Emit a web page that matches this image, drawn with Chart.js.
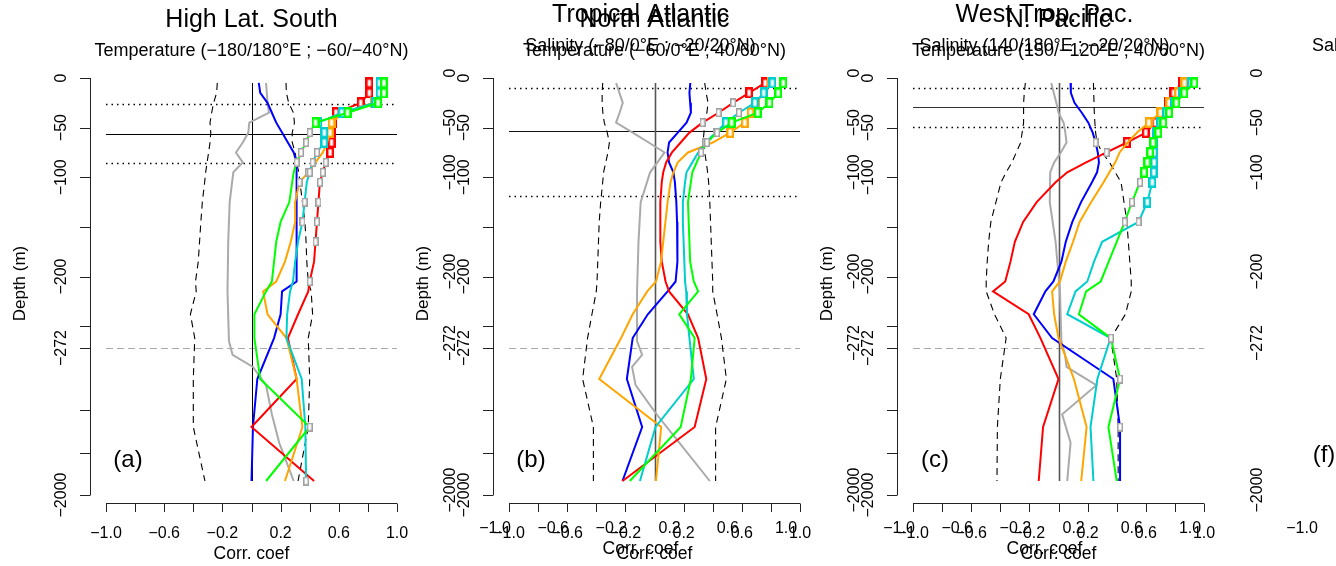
<!DOCTYPE html>
<html>
<head>
<meta charset="utf-8">
<script src="https://cdn.jsdelivr.net/npm/chart.js@4.4.0/dist/chart.umd.min.js"></script>
<style>
html, body { margin:0; padding:0; background:#fff; overflow:hidden; width:1336px; height:566px; }
.pnl { position:absolute; top:0; width:420px; height:566px; }
</style>
</head>
<body>
<div class="pnl" style="left:0px"><canvas id="pa" width="420" height="566"></canvas></div>
<div class="pnl" style="left:403px"><canvas id="pb" width="420" height="566"></canvas></div>
<div class="pnl" style="left:807px"><canvas id="pc" width="420" height="566"></canvas></div>
<div class="pnl" style="left:1210px"><canvas id="pf" width="420" height="566"></canvas></div>
<script>
// depth levels (m) of the profiles
var depthLevels = [5,15,25,35,45,55,65,75,85,95,105,125,145,165,185,205,215,238,262,400,700,1500];
var grayLevels  = [5,25,35,45,55,65,75,85,95,125,165,215,265,300,350,420,550,880,1500];

// the depth axis is stretched above 272 m and squeezed below
var depthKnots = [0,272,400,500,700,1000,1500,2000];
var axisKnots  = [0,270,301,332,349,375,403,417];

var depthTicks = [0,50,100,150,200,250,272,500,1000,2000];
var depthTickLabels = ['0','\u221250','\u2212100','','\u2212200','','\u2212272','','','\u22122000'];
var corrTicks = [-1,-0.8,-0.6,-0.4,-0.2,0,0.2,0.4,0.6,0.8,1];
var corrTickLabels = ['\u22121.0','','\u22120.6','','\u22120.2','','0.2','','0.6','','1.0'];

// (a) High Lat. South
var a_red    = [0.81,0.81,0.75,0.58,0.56,0.55,0.55,0.54,0.51,0.49,0.47,0.46,0.45,0.44,0.43,0.40,0.39,0.32,0.25,0.31,0.00,0.43];
var a_orange = [0.88,0.88,0.84,0.63,0.55,0.54,0.52,0.49,0.44,0.39,0.33,0.30,0.30,0.27,0.23,0.17,0.08,0.11,0.24,0.31,0.35,0.23];
var a_cyan   = [0.88,0.88,0.85,0.62,0.46,0.50,0.50,0.45,0.42,0.40,0.38,0.365,0.35,0.32,0.30,0.285,0.265,0.245,0.24,0.345,0.37,0.375];
var a_green  = [0.91,0.91,0.87,0.66,0.44,0.40,0.375,0.34,0.31,0.29,0.28,0.26,0.20,0.17,0.155,0.14,0.10,0.02,0.02,0.06,0.40,0.10];
var a_blue   = [0.05,0.06,0.11,0.14,0.17,0.21,0.25,0.29,0.31,0.31,0.31,0.31,0.31,0.31,0.31,0.31,0.21,0.20,0.155,0.04,0.01,0.0];
var a_gray   = [0.10,0.11,0.12,-0.015,-0.022,-0.06,-0.107,-0.06,-0.125,-0.15,-0.16,-0.165,-0.155,-0.13,0.01,0.10,0.14,0.19,0.29];
var a_lo     = [-0.235,-0.24,-0.26,-0.274,-0.285,-0.28,-0.285,-0.295,-0.305,-0.315,-0.322,-0.338,-0.348,-0.357,-0.366,-0.385,-0.38,-0.42,-0.39,-0.40,-0.40,-0.32];
var a_hi     = [0.237,0.24,0.255,0.288,0.295,0.28,0.28,0.30,0.31,0.325,0.333,0.35,0.367,0.375,0.38,0.39,0.41,0.42,0.39,0.40,0.39,0.32];
// 2 = significant (coloured square), 1 = weaker (grey square)
var a_red_sig    = [2,2,2,2,2,2,2,2,1,1,1,1,1,1,0,1,0,0,0,0,0,0];
var a_orange_sig = [2,2,2,2,2,2,0,0,0,1,1,0,0,0,0,0,0,0,0,0,0,0];
var a_cyan_sig   = [2,2,2,2,2,2,2,1,1,1,0,1,1,0,0,0,0,0,0,0,0,1];
var a_green_sig  = [2,2,2,2,2,1,1,1,1,0,0,0,0,0,0,0,0,0,0,0,1,0];

// (b) North Atlantic
var b_red    = [0.76,0.65,0.54,0.44,0.33,0.24,0.18,0.12,0.08,0.06,0.05,0.04,0.04,0.04,0.05,0.076,0.10,0.23,0.30,0.356,0.276,-0.22];
var b_orange = [0.80,0.75,0.70,0.66,0.62,0.52,0.40,0.23,0.16,0.13,0.11,0.09,0.075,0.06,0.045,0.01,-0.05,-0.15,-0.23,-0.38,0.046,0.01];
var b_cyan   = [0.81,0.75,0.69,0.58,0.49,0.42,0.35,0.30,0.26,0.22,0.21,0.195,0.195,0.20,0.205,0.21,0.218,0.223,0.24,0.27,0.007,-0.10];
var b_green  = [0.885,0.85,0.79,0.71,0.53,0.43,0.36,0.32,0.29,0.26,0.25,0.23,0.235,0.24,0.245,0.27,0.30,0.17,0.276,0.25,0.18,-0.17];
var b_blue   = [0.246,0.24,0.245,0.25,0.22,0.16,0.10,0.09,0.10,0.13,0.14,0.15,0.155,0.16,0.155,0.145,0.09,-0.046,-0.15,-0.19,-0.085,-0.22];
var b_gray   = [-0.264,-0.218,-0.24,-0.264,-0.15,-0.04,0.069,0.02,-0.03,-0.095,-0.11,-0.12,-0.12,-0.085,-0.154,-0.13,0.014,0.17,0.38];
var b_lo     = [-0.356,-0.36,-0.36,-0.355,-0.345,-0.325,-0.31,-0.32,-0.335,-0.35,-0.356,-0.37,-0.38,-0.385,-0.39,-0.395,-0.40,-0.43,-0.46,-0.494,-0.42,-0.42];
var b_hi     = [0.345,0.355,0.368,0.36,0.345,0.34,0.333,0.345,0.356,0.365,0.372,0.38,0.385,0.39,0.395,0.40,0.40,0.43,0.46,0.494,0.42,0.42];
var b_red_sig    = [2,2,1,1,1,0,0,0,0,0,0,0,0,0,0,0,0,0,0,0,0,0];
var b_orange_sig = [2,2,2,2,2,2,0,0,0,0,0,0,0,0,0,0,0,0,0,0,0,0];
var b_cyan_sig   = [2,2,2,1,2,1,1,0,0,0,0,0,0,0,0,0,0,0,0,0,0,0];
var b_green_sig  = [2,2,2,2,2,1,1,1,0,0,0,0,0,0,0,0,0,0,0,0,0,0];

// (c) N. Pacific
var c_red    = [0.85,0.79,0.75,0.71,0.665,0.60,0.47,0.33,0.19,0.06,-0.02,-0.15,-0.243,-0.30,-0.33,-0.366,-0.45,-0.205,-0.124,0.0,-0.106,-0.136];
var c_orange = [0.865,0.82,0.76,0.70,0.62,0.54,0.475,0.42,0.39,0.35,0.31,0.225,0.145,0.10,0.05,0.01,-0.044,-0.03,0.0,0.106,0.193,0.156];
var c_cyan   = [0.91,0.85,0.795,0.74,0.70,0.67,0.657,0.657,0.657,0.655,0.645,0.61,0.55,0.30,0.244,0.198,0.117,0.06,0.358,0.267,0.22,0.24];
var c_green  = [0.933,0.864,0.81,0.76,0.72,0.685,0.65,0.63,0.61,0.588,0.56,0.505,0.455,0.40,0.345,0.29,0.19,0.14,0.36,0.423,0.343,0.40];
var c_blue   = [0.083,0.085,0.11,0.16,0.205,0.235,0.255,0.27,0.278,0.265,0.23,0.155,0.095,0.05,0.02,-0.035,-0.09,-0.17,-0.044,0.377,0.423,0.423];
var c_gray   = [-0.05,-0.015,0.0,0.035,0.047,0.055,0.016,-0.03,-0.057,-0.06,-0.02,0.01,0.02,0.045,0.055,0.26,0.025,0.083,0.06];
var c_lo     = [-0.228,-0.235,-0.24,-0.24,-0.24,-0.25,-0.26,-0.29,-0.32,-0.36,-0.395,-0.43,-0.465,-0.48,-0.49,-0.497,-0.497,-0.44,-0.36,-0.40,-0.42,-0.423];
var c_hi     = [0.24,0.242,0.244,0.246,0.25,0.255,0.265,0.30,0.35,0.39,0.43,0.45,0.47,0.48,0.49,0.50,0.50,0.46,0.36,0.40,0.41,0.41];
var c_red_sig    = [2,2,2,2,2,2,2,1,0,0,0,0,0,0,0,0,0,0,0,0,0,0];
var c_orange_sig = [2,2,2,2,2,0,0,0,0,0,0,0,0,0,0,0,0,0,0,0,0,0];
var c_cyan_sig   = [2,2,2,2,2,2,2,2,2,2,2,2,1,0,0,0,0,0,0,0,0,0];
var c_green_sig  = [2,2,2,2,2,2,2,2,2,2,1,1,1,0,0,0,0,0,1,1,0,0];
var c_blue_sig   = [0,0,0,0,0,0,1,0,0,0,0,0,0,0,0,0,0,0,0,0,1,0];

// horizontal reference depths (m)
var dottedDepths = [[26,86],[10,119],[10,49]];
var mixedDepths = [56,53,29];

var mainTitles = ['High Lat. South','North Atlantic','N. Pacific'];
var mainSubs = ['Temperature (\u2212180/180\u00b0E ; \u221260/\u221240\u00b0N)',
                'Temperature (\u221260/0\u00b0E ; 40/60\u00b0N)',
                'Temperature (150/\u2212120\u00b0E ; 40/60\u00b0N)'];
var panelTags = ['(a)','(b)','(c)'];
var ghostTitles = ['Tropical Atlantic','West Trop. Pac.',''];
var ghostSubs = ['Salinity (\u221280/0\u00b0E ; \u221220/20\u00b0N)',
                 'Salinity (140/180\u00b0E ; \u221220/20\u00b0N)',
                 'Salinity (\u2212180/180\u00b0E ; \u221260/\u221240\u00b0N)'];

var FONT = '"Liberation Sans", Arial, Helvetica, sans-serif';
var COLORS = {red:'#FF0000', orange:'#FFA500', cyan:'#00CDCD', green:'#00FF00', blue:'#0000FF', gray:'#AAAAAA'};

function depthAxis(d) {
    for (var i = 1; i < depthKnots.length; i++) {
        if (d <= depthKnots[i]) {
            var t = (d - depthKnots[i-1]) / (depthKnots[i] - depthKnots[i-1]);
            return -(axisKnots[i-1] + t * (axisKnots[i] - axisKnots[i-1]));
        }
    }
    return -axisKnots[axisKnots.length - 1];
}

function makeBox(color, w, h, lw) {
    var c = document.createElement('canvas');
    c.width = w; c.height = h;
    var g = c.getContext('2d');
    g.fillStyle = '#fff';
    g.fillRect(0, 0, w, h);
    g.strokeStyle = color;
    g.lineWidth = lw;
    g.strokeRect(lw/2, lw/2, w - lw, h - lw);
    return c;
}
var boxes = {};
Object.keys(COLORS).forEach(function(k){ boxes[k] = makeBox(COLORS[k], 8, 11, 2.4); });
var greyBox = makeBox('#A0A0A0', 6, 9, 1.5);

function series(vals, levels, colorName, width, sig, dash) {
    return {
        data: vals.map(function(v, i){ return {x: v, y: depthAxis(levels[i])}; }),
        borderColor: colorName ? COLORS[colorName] : '#000',
        borderWidth: width,
        borderDash: dash || [],
        tension: 0,
        fill: false,
        clip: false,
        pointRadius: function(ctx){ return sig && sig[ctx.dataIndex] ? 4 : 0; },
        pointStyle: function(ctx){ return sig && sig[ctx.dataIndex] === 2 ? boxes[colorName] : greyBox; }
    };
}

function put(ctx, str, x, y, size, align, base, rot) {
    ctx.save();
    ctx.translate(x, y);
    if (rot) ctx.rotate(rot);
    ctx.font = size + 'px ' + FONT;
    ctx.textAlign = align || 'center';
    ctx.textBaseline = base || 'alphabetic';
    ctx.fillStyle = '#000';
    ctx.fillText(str, 0, 0);
    ctx.restore();
}
function seg(ctx, x1, y1, x2, y2) {
    ctx.beginPath(); ctx.moveTo(x1, y1); ctx.lineTo(x2, y2); ctx.stroke();
}
function crisp(v) { return Math.round(v) + 0.5; }

function drawTexts(chart, t, dx, dy) {
    var ctx = chart.ctx, xs = chart.scales.x, ys = chart.scales.y;
    var L = chart.chartArea.left, B = chart.chartArea.bottom;
    var xc = xs.getPixelForValue(0) + dx;
    if (t.title) put(ctx, t.title, xc, 29 + dy - 2, 25);
    if (t.sub) put(ctx, t.sub, xc, 57 + dy - 1, 18);
    depthTicks.forEach(function(d, i){
        if (depthTickLabels[i]) put(ctx, depthTickLabels[i], L - 28 + dx, ys.getPixelForValue(depthAxis(d)) + dy, 16, 'center', 'middle', -Math.PI/2);
    });
    corrTicks.forEach(function(v, i){
        if (corrTickLabels[i]) put(ctx, corrTickLabels[i], xs.getPixelForValue(v) + dx, B + 31 + dy, 16, 'center', 'middle');
    });
    put(ctx, 'Corr. coef', xc, B + 58 + dy - 2, 17.5);
    if (t.depthTitle) put(ctx, 'Depth (m)', L - 65 + dx, (ys.getPixelForValue(0) + ys.getPixelForValue(depthAxis(2000))) / 2 - 3 + dy, 17, 'center', 'alphabetic', -Math.PI/2);
    if (t.tag) put(ctx, t.tag, L + 38 + dx, 467 + dy, 24);
}

var rPlot = {
    id: 'rPlot',
    beforeDatasetsDraw: function(chart, args, o) {
        if (o.empty) return;
        var ctx = chart.ctx, xs = chart.scales.x, ys = chart.scales.y;
        var X = function(v){ return xs.getPixelForValue(v); };
        var Y = function(d){ return ys.getPixelForValue(depthAxis(d)); };
        ctx.save();
        ctx.lineWidth = 1;
        ctx.strokeStyle = '#AAAAAA';
        ctx.setLineDash([7, 4]);
        seg(ctx, X(-1), crisp(Y(272)), X(1), crisp(Y(272)));
        ctx.strokeStyle = '#000';
        ctx.lineWidth = 1.5;
        ctx.setLineDash([1.5, 4]);
        o.dotted.forEach(function(d){ seg(ctx, X(-1), crisp(Y(d)), X(1), crisp(Y(d))); });
        ctx.setLineDash([]);
        ctx.lineWidth = 1;
        ctx.strokeStyle = o.refColor;
        seg(ctx, X(-1), crisp(Y(o.mixed)), X(1), crisp(Y(o.mixed)));
        ctx.strokeStyle = o.zeroColor;
        ctx.lineWidth = o.zeroWidth;
        seg(ctx, crisp(X(0)), Y(depthLevels[0]), crisp(X(0)), Y(depthLevels[depthLevels.length - 1]));
        ctx.restore();
    },
    afterDraw: function(chart, args, o) {
        var ctx = chart.ctx, xs = chart.scales.x, ys = chart.scales.y;
        var L = chart.chartArea.left, B = chart.chartArea.bottom;
        ctx.save();
        if (!o.empty) {
            ctx.strokeStyle = '#222';
            ctx.lineWidth = 1;
            var lx = crisp(L);
            seg(ctx, lx, ys.getPixelForValue(0), lx, ys.getPixelForValue(depthAxis(2000)));
            depthTicks.forEach(function(d){
                var y = crisp(ys.getPixelForValue(depthAxis(d)));
                seg(ctx, L - 10, y, lx, y);
            });
            var by = crisp(B);
            seg(ctx, xs.getPixelForValue(-1), by, xs.getPixelForValue(1), by);
            corrTicks.forEach(function(v){
                var x = crisp(xs.getPixelForValue(v));
                seg(ctx, x, by, x, B + 9);
            });
            drawTexts(chart, o.main, 0, 0);
        }
        if (o.ghost) drawTexts(chart, o.ghost, -14, -5);
        ctx.restore();
    }
};

function makePanel(id, p) {
    var sets = [];
    if (p.red) {
        sets = [
            series(p.green, depthLevels, 'green', 2, p.greenSig),
            series(p.cyan, depthLevels, 'cyan', 2, p.cyanSig),
            series(p.orange, depthLevels, 'orange', 2, p.orangeSig),
            series(p.red, depthLevels, 'red', 2, p.redSig),
            series(p.blue, depthLevels, 'blue', 2, p.blueSig),
            series(p.gray, grayLevels, 'gray', 2, null),
            series(p.hi, depthLevels, null, 1.1, null, [7, 5]),
            series(p.lo, depthLevels, null, 1.1, null, [7, 5])
        ];
    }
    return new Chart(document.getElementById(id), {
        type: 'line',
        data: { datasets: sets },
        options: {
            responsive: false,
            animation: false,
            events: [],
            layout: { autoPadding: false, padding: { left: 90, right: 20, top: 78, bottom: 63 } },
            scales: {
                x: { type: 'linear', display: false, min: -1.11, max: 1.0206 },
                y: { type: 'linear', display: false, min: -425, max: 0 }
            },
            plugins: {
                legend: { display: false },
                tooltip: { enabled: false },
                rPlot: p.plot
            }
        },
        plugins: [rPlot]
    });
}

makePanel('pa', {
    red: a_red, orange: a_orange, cyan: a_cyan, green: a_green, blue: a_blue, gray: a_gray, lo: a_lo, hi: a_hi,
    redSig: a_red_sig, orangeSig: a_orange_sig, cyanSig: a_cyan_sig, greenSig: a_green_sig, blueSig: null,
    plot: { dotted: dottedDepths[0], mixed: mixedDepths[0], refColor: '#000', zeroColor: '#000', zeroWidth: 1,
            main: { title: mainTitles[0], sub: mainSubs[0], tag: panelTags[0], depthTitle: true } }
});
makePanel('pb', {
    red: b_red, orange: b_orange, cyan: b_cyan, green: b_green, blue: b_blue, gray: b_gray, lo: b_lo, hi: b_hi,
    redSig: b_red_sig, orangeSig: b_orange_sig, cyanSig: b_cyan_sig, greenSig: b_green_sig, blueSig: null,
    plot: { dotted: dottedDepths[1], mixed: mixedDepths[1], refColor: '#111', zeroColor: '#555', zeroWidth: 1.6,
            main: { title: mainTitles[1], sub: mainSubs[1], tag: panelTags[1], depthTitle: true },
            ghost: { title: ghostTitles[0], sub: ghostSubs[0] } }
});
makePanel('pc', {
    red: c_red, orange: c_orange, cyan: c_cyan, green: c_green, blue: c_blue, gray: c_gray, lo: c_lo, hi: c_hi,
    redSig: c_red_sig, orangeSig: c_orange_sig, cyanSig: c_cyan_sig, greenSig: c_green_sig, blueSig: c_blue_sig,
    plot: { dotted: dottedDepths[2], mixed: mixedDepths[2], refColor: '#333', zeroColor: '#555', zeroWidth: 1.6,
            main: { title: mainTitles[2], sub: mainSubs[2], tag: panelTags[2], depthTitle: true },
            ghost: { title: ghostTitles[1], sub: ghostSubs[1] } }
});
makePanel('pf', {
    plot: { empty: true, ghost: { title: ghostTitles[2], sub: ghostSubs[2], tag: '(f)' } }
});
</script>
</body>
</html>
